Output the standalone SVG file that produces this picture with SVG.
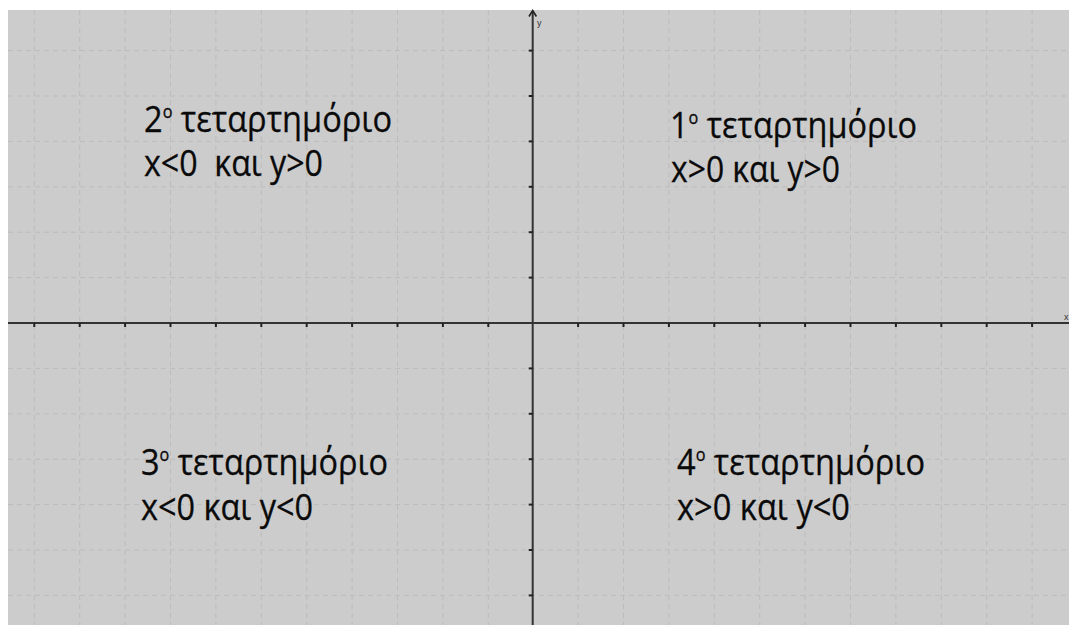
<svg xmlns="http://www.w3.org/2000/svg" width="1069" height="625" viewBox="0 0 1069 625">
<style>
.bg{fill:#cccccc}
.grid line{stroke:#bcbcbc;stroke-width:1;stroke-dasharray:5 4}
.axis{stroke:#333333;stroke-width:2;fill:none}
.tick{stroke:#222222;stroke-width:2}
.t{font-family:"Open Sans","Noto Sans",sans-serif;font-size:36px;fill:#0a0a0a;stroke:#0a0a0a;stroke-width:0.3}
.s{font-size:18px}
.lab{font-family:"Liberation Sans",sans-serif;font-size:9px;fill:#333333}
</style>
<rect width="1069" height="625" fill="#ffffff"/>
<rect class="bg" x="8" y="10" width="1061" height="615"/>
<g class="grid">
<line x1="34.3" y1="10" x2="34.3" y2="625"/>
<line x1="79.7" y1="10" x2="79.7" y2="625"/>
<line x1="125.1" y1="10" x2="125.1" y2="625"/>
<line x1="170.5" y1="10" x2="170.5" y2="625"/>
<line x1="215.9" y1="10" x2="215.9" y2="625"/>
<line x1="261.3" y1="10" x2="261.3" y2="625"/>
<line x1="306.7" y1="10" x2="306.7" y2="625"/>
<line x1="352.1" y1="10" x2="352.1" y2="625"/>
<line x1="397.5" y1="10" x2="397.5" y2="625"/>
<line x1="442.9" y1="10" x2="442.9" y2="625"/>
<line x1="488.3" y1="10" x2="488.3" y2="625"/>
<line x1="578.1" y1="10" x2="578.1" y2="625"/>
<line x1="623.5" y1="10" x2="623.5" y2="625"/>
<line x1="668.9" y1="10" x2="668.9" y2="625"/>
<line x1="714.3" y1="10" x2="714.3" y2="625"/>
<line x1="759.7" y1="10" x2="759.7" y2="625"/>
<line x1="805.1" y1="10" x2="805.1" y2="625"/>
<line x1="850.5" y1="10" x2="850.5" y2="625"/>
<line x1="895.9" y1="10" x2="895.9" y2="625"/>
<line x1="941.3" y1="10" x2="941.3" y2="625"/>
<line x1="986.7" y1="10" x2="986.7" y2="625"/>
<line x1="1032.1" y1="10" x2="1032.1" y2="625"/>
<line x1="8" y1="50.6" x2="1069" y2="50.6"/>
<line x1="8" y1="96" x2="1069" y2="96"/>
<line x1="8" y1="141.4" x2="1069" y2="141.4"/>
<line x1="8" y1="186.8" x2="1069" y2="186.8"/>
<line x1="8" y1="232.2" x2="1069" y2="232.2"/>
<line x1="8" y1="277.6" x2="1069" y2="277.6"/>
<line x1="8" y1="368.4" x2="1069" y2="368.4"/>
<line x1="8" y1="413.8" x2="1069" y2="413.8"/>
<line x1="8" y1="459.2" x2="1069" y2="459.2"/>
<line x1="8" y1="504.6" x2="1069" y2="504.6"/>
<line x1="8" y1="550" x2="1069" y2="550"/>
<line x1="8" y1="595.4" x2="1069" y2="595.4"/>
</g>
<g id="axes">
<line class="axis" x1="8" y1="323" x2="1069" y2="323"/>
<line class="axis" x1="532.7" y1="625" x2="532.7" y2="11"/>
<path d="M529 16.5 L532.7 10.5 L536.4 16.5" fill="none" stroke="#222222" stroke-width="1.6"/>
<g id="ticks-x">
<line class="tick" x1="34.3" y1="323" x2="34.3" y2="327"/>
<line class="tick" x1="79.7" y1="323" x2="79.7" y2="327"/>
<line class="tick" x1="125.1" y1="323" x2="125.1" y2="327"/>
<line class="tick" x1="170.5" y1="323" x2="170.5" y2="327"/>
<line class="tick" x1="215.9" y1="323" x2="215.9" y2="327"/>
<line class="tick" x1="261.3" y1="323" x2="261.3" y2="327"/>
<line class="tick" x1="306.7" y1="323" x2="306.7" y2="327"/>
<line class="tick" x1="352.1" y1="323" x2="352.1" y2="327"/>
<line class="tick" x1="397.5" y1="323" x2="397.5" y2="327"/>
<line class="tick" x1="442.9" y1="323" x2="442.9" y2="327"/>
<line class="tick" x1="488.3" y1="323" x2="488.3" y2="327"/>
<line class="tick" x1="578.1" y1="323" x2="578.1" y2="327"/>
<line class="tick" x1="623.5" y1="323" x2="623.5" y2="327"/>
<line class="tick" x1="668.9" y1="323" x2="668.9" y2="327"/>
<line class="tick" x1="714.3" y1="323" x2="714.3" y2="327"/>
<line class="tick" x1="759.7" y1="323" x2="759.7" y2="327"/>
<line class="tick" x1="805.1" y1="323" x2="805.1" y2="327"/>
<line class="tick" x1="850.5" y1="323" x2="850.5" y2="327"/>
<line class="tick" x1="895.9" y1="323" x2="895.9" y2="327"/>
<line class="tick" x1="941.3" y1="323" x2="941.3" y2="327"/>
<line class="tick" x1="986.7" y1="323" x2="986.7" y2="327"/>
<line class="tick" x1="1032.1" y1="323" x2="1032.1" y2="327"/>
</g>
<g id="ticks-y">
<line class="tick" x1="528.7" y1="50.6" x2="532.7" y2="50.6"/>
<line class="tick" x1="528.7" y1="96" x2="532.7" y2="96"/>
<line class="tick" x1="528.7" y1="141.4" x2="532.7" y2="141.4"/>
<line class="tick" x1="528.7" y1="186.8" x2="532.7" y2="186.8"/>
<line class="tick" x1="528.7" y1="232.2" x2="532.7" y2="232.2"/>
<line class="tick" x1="528.7" y1="277.6" x2="532.7" y2="277.6"/>
<line class="tick" x1="528.7" y1="368.4" x2="532.7" y2="368.4"/>
<line class="tick" x1="528.7" y1="413.8" x2="532.7" y2="413.8"/>
<line class="tick" x1="528.7" y1="459.2" x2="532.7" y2="459.2"/>
<line class="tick" x1="528.7" y1="504.6" x2="532.7" y2="504.6"/>
<line class="tick" x1="528.7" y1="550" x2="532.7" y2="550"/>
<line class="tick" x1="528.7" y1="595.4" x2="532.7" y2="595.4"/>
</g>
<text class="lab" x="537" y="26">y</text>
<text class="lab" x="1064" y="320">x</text>
</g>
<g id="q2">
<text class="t" x="144" y="131.7" textLength="248" lengthAdjust="spacingAndGlyphs">2<tspan class="s" dy="-14">o</tspan><tspan dy="14"> τεταρτημόριο</tspan></text>
<text class="t" x="144" y="176" textLength="179" lengthAdjust="spacingAndGlyphs" xml:space="preserve">x&lt;0  και y&gt;0</text>
</g>
<g id="q1">
<text class="t" x="670" y="138" textLength="247" lengthAdjust="spacingAndGlyphs">1<tspan class="s" dy="-14">o</tspan><tspan dy="14"> τεταρτημόριο</tspan></text>
<text class="t" x="671" y="182" textLength="169" lengthAdjust="spacingAndGlyphs">x&gt;0 και y&gt;0</text>
</g>
<g id="q3">
<text class="t" x="141" y="475" textLength="247" lengthAdjust="spacingAndGlyphs">3<tspan class="s" dy="-14">o</tspan><tspan dy="14"> τεταρτημόριο</tspan></text>
<text class="t" x="141" y="520" textLength="172" lengthAdjust="spacingAndGlyphs">x&lt;0 και y&lt;0</text>
</g>
<g id="q4">
<text class="t" x="677" y="475" textLength="248" lengthAdjust="spacingAndGlyphs">4<tspan class="s" dy="-14">o</tspan><tspan dy="14"> τεταρτημόριο</tspan></text>
<text class="t" x="677" y="520" textLength="173" lengthAdjust="spacingAndGlyphs">x&gt;0 και y&lt;0</text>
</g>
</svg>
